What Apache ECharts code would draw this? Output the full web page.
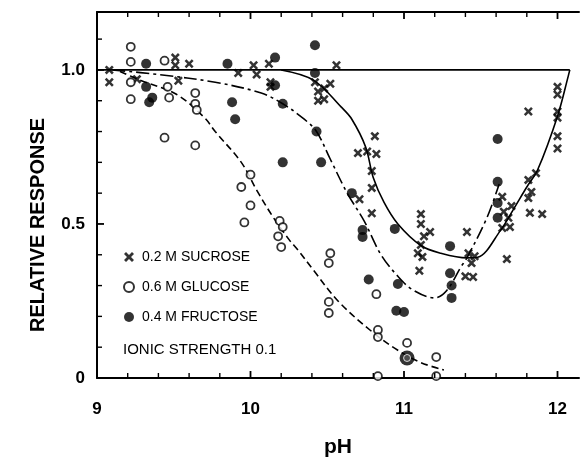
<!DOCTYPE html>
<html>
<head>
<meta charset="utf-8">
<script src="https://cdn.jsdelivr.net/npm/echarts@6/dist/echarts.min.js"></script>
<style>html,body{margin:0;padding:0;background:#fff;}#c{width:581px;height:459px;}</style>
</head>
<body>
<div id="c"></div>
<script>
// ---- data (pH, relative response) ----
var sucrose = [[9.08,1.00],[9.08,0.96],[9.26,0.97],[9.51,1.04],[9.51,1.015],[9.6,1.02],[9.53,0.965],
[9.92,0.99],[10.02,1.015],[10.04,0.985],[10.12,1.02],[10.13,0.96],[10.13,0.945],
[10.56,1.015],[10.42,0.96],[10.44,0.93],[10.48,0.94],[10.52,0.955],[10.44,0.90],[10.48,0.905],
[10.81,0.785],[10.7,0.73],[10.76,0.735],[10.82,0.727],[10.79,0.672],[10.79,0.617],[10.71,0.58],[10.79,0.535],
[11.11,0.532],[11.11,0.50],[11.17,0.474],[11.13,0.46],[11.11,0.432],[11.09,0.405],[11.12,0.393],[11.10,0.348],
[11.41,0.474],[11.42,0.405],[11.46,0.395],[11.44,0.373],[11.40,0.33],[11.45,0.328],[11.67,0.386],
[11.64,0.588],[11.70,0.558],[11.65,0.54],[11.68,0.52],[11.64,0.487],[11.69,0.49],
[11.81,0.643],[11.86,0.665],[11.83,0.604],[11.81,0.584],[11.82,0.536],[11.90,0.532],
[11.81,0.865],[12.0,0.945],[12.0,0.92],[12.0,0.865],[12.0,0.845],[12.0,0.785],[12.0,0.745]];
var glucose = [[9.22,1.075],[9.22,1.026],[9.44,1.03],[9.22,0.96],[9.22,0.905],[9.46,0.945],[9.47,0.91],
[9.64,0.925],[9.64,0.89],[9.65,0.87],[9.44,0.78],[9.64,0.755],[10.0,0.66],[9.94,0.62],[10.0,0.56],
[9.96,0.505],[10.19,0.51],[10.21,0.49],[10.18,0.46],[10.2,0.425],[10.52,0.405],[10.51,0.373],
[10.82,0.272],[10.51,0.247],[10.51,0.211],[10.83,0.156],[10.83,0.133],[11.02,0.114],[11.21,0.068],
[10.83,0.006],[11.21,0.006]];
var glucoseRinged = [[11.02,0.065]];
var fructose = [[9.32,1.02],[9.32,0.945],[9.34,0.895],[9.36,0.91],[9.85,1.02],[9.88,0.895],[9.9,0.84],
[10.16,1.04],[10.16,0.95],[10.21,0.89],[10.42,1.08],[10.42,0.99],[10.43,0.80],[10.21,0.70],[10.46,0.70],
[10.66,0.60],[10.73,0.48],[10.73,0.458],[10.94,0.484],[11.3,0.428],[11.3,0.34],[11.31,0.30],[11.31,0.26],
[10.77,0.32],[10.96,0.305],[10.95,0.218],[11.0,0.214],[11.61,0.776],[11.61,0.637],[11.61,0.568],[11.61,0.52]];
var referenceLine = [[9.0,1.0],[12.08,1.0]];
var sucroseCurve = [[10.2,1.0],[10.41,0.967],[10.59,0.88],[10.66,0.84],[10.75,0.75],[10.8,0.65],[10.87,0.57],
[10.96,0.50],[11.11,0.43],[11.24,0.405],[11.41,0.39],[11.48,0.392],[11.63,0.48],[11.71,0.545],[11.8,0.62],
[11.87,0.675],[12.0,0.85],[12.07,0.98],[12.08,1.0]];
var fructoseCurve = [[9.1,1.0],[9.4,0.985],[9.77,0.96],[10.07,0.925],[10.21,0.89],[10.35,0.84],[10.43,0.80],
[10.52,0.71],[10.63,0.60],[10.74,0.51],[10.85,0.40],[10.96,0.33],[11.06,0.285],[11.2,0.26],[11.28,0.285],
[11.37,0.36],[11.41,0.39],[11.54,0.52],[11.62,0.63]];
var glucoseCurve = [[9.15,0.995],[9.28,0.967],[9.52,0.92],[9.7,0.845],[9.77,0.80],[9.94,0.70],[10.04,0.61],
[10.15,0.52],[10.25,0.45],[10.31,0.415],[10.41,0.35],[10.57,0.25],[10.78,0.155],[10.96,0.09],[11.11,0.05],[11.26,0.026]];
var xTicks = [9,10,11,12];
var xMinorTicks = [9.2,9.4,9.6,9.8,10.2,10.4,10.6,10.8,11.2,11.4,11.6,11.8];
var yTicks = [0,0.5,1.0];
var yMinorTicks = [0.1,0.2,0.3,0.4,0.6,0.7,0.8,0.9,1.1];
var yTickLabels = {0:'0',0.5:'0.5',1:'1.0'};
var legendNames = ['0.2 M SUCROSE','0.6 M GLUCOSE','0.4 M FRUCTOSE'];
var noteText = 'IONIC STRENGTH 0.1';
var yTitle = 'RELATIVE RESPONSE';

var X_MIN = 9, X_MAX = 12.14, Y_MIN = 0, Y_MAX = 1.188;
var FONT = "'Liberation Sans',sans-serif";
var crossPath = 'path://M0,2 L2,0 L5,3 L8,0 L10,2 L7,5 L10,8 L8,10 L5,7 L2,10 L0,8 L3,5 Z';

var chart = echarts.init(document.getElementById('c'));
var lineBase = {type:'line', showSymbol:false, symbol:'none', smooth:0.35, z:2};
var baseGraphic = [
  {id:'note', type:'text', left:123, top:342, style:{text:noteText, fill:'#000', font:"15px 'Liberation Sans',sans-serif"}},
  {id:'ytitle', type:'text', x:38, y:225, rotation:Math.PI/2,
    style:{text:yTitle, fill:'#000', font:"bold 20px 'Liberation Sans',sans-serif", align:'center', verticalAlign:'middle'}}
];
chart.setOption({
  animation:false,
  grid:{left:97, right:2, top:12, bottom:81, outerBoundsMode:'none'},
  xAxis:[{
    type:'value', min:X_MIN, max:X_MAX, interval:1,
    axisLine:{show:true, onZero:false, lineStyle:{color:'#000', width:2}},
    axisTick:{show:false}, splitLine:{show:false},
    axisLabel:{margin:23, color:'#000', fontFamily:FONT, fontWeight:'bold', fontSize:17,
      formatter:function(v){return xTicks.indexOf(v)>=0 ? String(v) : '';}},
    name:'pH', nameLocation:'middle', nameGap:59,
    nameTextStyle:{color:'#000', fontFamily:FONT, fontWeight:'bold', fontSize:21}
  },{
    type:'value', position:'top', min:X_MIN, max:X_MAX, interval:1,
    axisLine:{show:true, onZero:false, lineStyle:{color:'#000', width:2}},
    axisTick:{show:false}, splitLine:{show:false}, axisLabel:{show:false}
  }],
  yAxis:{
    type:'value', min:Y_MIN, max:Y_MAX, interval:0.5,
    axisLine:{show:true, onZero:false, lineStyle:{color:'#000', width:2}},
    axisTick:{show:false}, splitLine:{show:false},
    axisLabel:{margin:12, color:'#000', fontFamily:FONT, fontWeight:'bold', fontSize:17,
      formatter:function(v){return yTickLabels.hasOwnProperty(v) ? yTickLabels[v] : '';}}
  },
  legend:{
    orient:'vertical', left:123, top:250, padding:0, itemGap:16, itemWidth:10, itemHeight:10,
    data:legendNames, selectedMode:false,
    textStyle:{color:'#000', fontFamily:FONT, fontSize:14, lineHeight:14, padding:[0,0,0,3]}
  },
  graphic:baseGraphic,
  series:[
    Object.assign({}, lineBase, {data:referenceLine, smooth:false, lineStyle:{color:'#000', width:1.6}}),
    Object.assign({}, lineBase, {data:sucroseCurve, lineStyle:{color:'#000', width:1.6}}),
    Object.assign({}, lineBase, {data:fructoseCurve, lineStyle:{color:'#000', width:1.6, type:[13,4,3,4]}}),
    Object.assign({}, lineBase, {data:glucoseCurve, lineStyle:{color:'#000', width:1.6, type:[7,4]}}),
    {name:legendNames[0], type:'scatter', data:sucrose, symbol:crossPath, symbolSize:9, z:5,
      itemStyle:{color:'#000'}},
    {name:legendNames[1], type:'scatter', data:glucose, symbol:'circle', symbolSize:8, z:5,
      itemStyle:{color:'#fff', borderColor:'#000', borderWidth:1.8}},
    {type:'scatter', data:glucoseRinged, symbol:'circle', symbolSize:15, z:5,
      itemStyle:{color:'#000'}},
    {type:'scatter', data:glucoseRinged, symbol:'circle', symbolSize:7, z:6,
      itemStyle:{color:'#555', borderColor:'#fff', borderWidth:1}},
    {name:legendNames[2], type:'scatter', data:fructose, symbol:'circle', symbolSize:10, z:5,
      itemStyle:{color:'#000'}}
  ]
});

// inward tick marks, positioned through the chart's own axis scales
function px(x, y){ return chart.convertToPixel({gridIndex:0}, [x, y]); }
var tickEls = [];
function addTick(id, p, dx, dy, w){
  tickEls.push({id:id, type:'line', z:100, silent:true,
    shape:{x1:p[0], y1:p[1], x2:p[0]+dx, y2:p[1]+dy},
    style:{stroke:'#000', lineWidth:w}});
}
xTicks.forEach(function(v, i){
  addTick('xb'+i, px(v, Y_MIN), 0, -7, 1.8);
  addTick('xt'+i, px(v, Y_MAX), 0, 7, 1.8);
});
xMinorTicks.forEach(function(v, i){
  addTick('xbm'+i, px(v, Y_MIN), 0, -5, 1.4);
  addTick('xtm'+i, px(v, Y_MAX), 0, 5, 1.4);
});
yTicks.forEach(function(v, i){ addTick('yl'+i, px(X_MIN, v), 7, 0, 1.8); });
yMinorTicks.forEach(function(v, i){ addTick('ylm'+i, px(X_MIN, v), 5, 0, 1.4); });
chart.setOption({graphic: baseGraphic.concat(tickEls)});
</script>
</body>
</html>
